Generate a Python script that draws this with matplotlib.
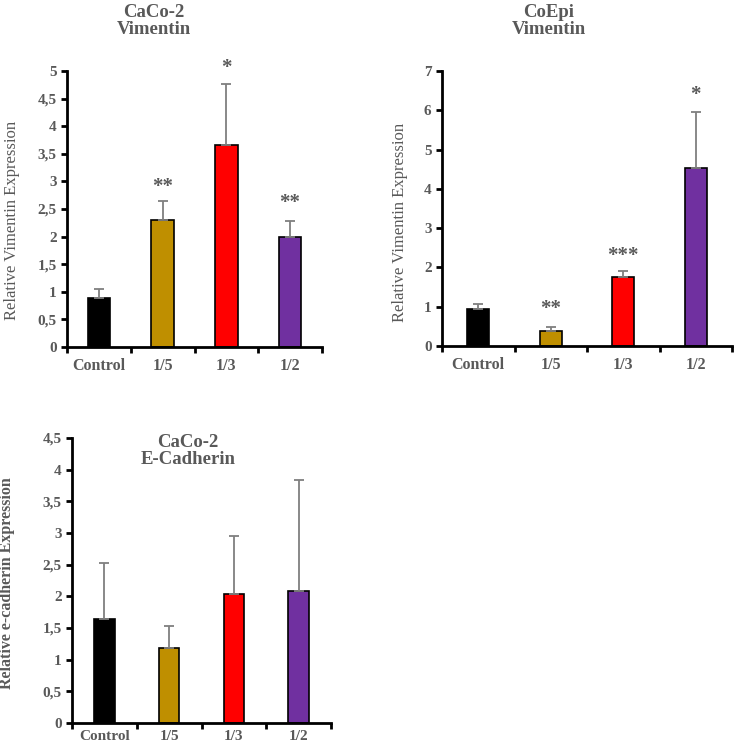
import matplotlib
matplotlib.use('Agg')
import matplotlib.pyplot as plt
from matplotlib.ticker import FuncFormatter, FixedLocator

plt.rcParams['font.family'] = ['Liberation Serif', 'DejaVu Serif']

groups = ['Control', '1/5', '1/3', '1/2']
colors = ['#000000', '#BF8F00', '#FF0000', '#7030A0']

# CaCo-2 Vimentin
caco_vim = [0.89, 2.30, 3.66, 1.99]
caco_vim_err = [0.16, 0.35, 1.10, 0.29]
caco_vim_sig = ['', '**', '*', '**']
caco_vim_sig_y = [0, 2.9, 5.05, 2.6]

# CoEpi Vimentin
coepi_vim = [0.94, 0.38, 1.76, 4.53]
coepi_vim_err = [0.13, 0.10, 0.15, 1.42]
coepi_vim_sig = ['', '**', '***', '*']
coepi_vim_sig_y = [0, 0.95, 2.3, 6.4]

# CaCo-2 E-Cadherin
caco_ecad = [1.64, 1.18, 2.03, 2.08]
caco_ecad_err = [0.88, 0.35, 0.92, 1.75]

GRAY = '#595959'
W, H = 734, 747


def comma(v, pos):
    return ('%g' % v).replace('.', ',')


def draw_panel(ax, values, errs, ymax, ystep, ylabel, bw, sig=None, sig_y=None,
               label_bold=False, xpad=8):
    x = list(range(len(groups)))
    ax.bar(x, values, width=bw, color=colors, edgecolor='black', linewidth=1.2,
           yerr=[[0] * len(errs), errs], ecolor='#7f7f7f',
           error_kw=dict(elinewidth=1.3, capsize=3.5, capthick=1.3), zorder=2)
    ax.set_xlim(-0.5, len(groups) - 0.5)
    ax.set_ylim(0, ymax)
    ticks = [i * ystep for i in range(int(round(ymax / ystep)) + 1)]
    ax.set_yticks(ticks)
    ax.yaxis.set_major_formatter(FuncFormatter(comma))
    ax.set_xticks(x)
    ax.set_xticklabels(groups)
    ax.xaxis.set_minor_locator(FixedLocator([i - 0.5 for i in range(len(groups) + 1)]))
    ax.tick_params(axis='x', which='major', length=0, pad=xpad)
    ax.tick_params(axis='x', which='minor', length=4, width=2, direction='out')
    ax.tick_params(axis='y', length=4, width=2, direction='out')
    for lab in ax.get_yticklabels():
        lab.set_fontweight('bold')
        lab.set_color(GRAY)
        lab.set_fontsize(11)
    for lab in ax.get_xticklabels():
        lab.set_fontweight('bold')
        lab.set_color(GRAY)
        lab.set_fontsize(11.5)
    for side in ['top', 'right']:
        ax.spines[side].set_visible(False)
    for side in ['left', 'bottom']:
        ax.spines[side].set_linewidth(2)
    ax.set_ylabel(ylabel, color=GRAY, fontsize=12,
                  fontweight='bold' if label_bold else 'normal')
    if sig:
        for i, s in enumerate(sig):
            if s:
                ax.text(i, sig_y[i], s, ha='center', va='center', color=GRAY,
                        fontsize=15, fontweight='bold', clip_on=False)


def ptitle(text, x, y):
    fig.text(x / W, 1 - y / H, text, ha='center', va='center', color=GRAY,
             fontweight='bold', fontsize=13.5, linespacing=1.05)


fig = plt.figure(figsize=(7.34, 7.47), dpi=100)

ax1 = fig.add_axes([67 / W, 1 - 347 / H, 255 / W, 276 / H])
draw_panel(ax1, caco_vim, caco_vim_err, 5, 0.5, 'Relative Vimentin Expression', 0.35,
           caco_vim_sig, caco_vim_sig_y)
ax1.yaxis.set_label_coords(-0.184, 0.46)
ptitle('CaCo-2\nVimentin', 154, 21)

ax2 = fig.add_axes([442 / W, 1 - 346 / H, 290 / W, 275 / H])
draw_panel(ax2, coepi_vim, coepi_vim_err, 7, 1, 'Relative Vimentin Expression', 0.31,
           coepi_vim_sig, coepi_vim_sig_y)
ax2.yaxis.set_label_coords(-0.117, 0.45)
ptitle('CoEpi\nVimentin', 549, 21)

ax3 = fig.add_axes([72 / W, 1 - 723 / H, 259 / W, 285 / H])
draw_panel(ax3, caco_ecad, caco_ecad_err, 4.5, 0.5, 'Relative e-cadherin Expression', 0.32,
           label_bold=True, xpad=5)
ax3.yaxis.label.set_fontsize(11.5)
for lab in ax3.get_xticklabels():
    lab.set_fontsize(11)
ax3.yaxis.set_label_coords(-0.222, 0.49)
ptitle('CaCo-2\nE-Cadherin', 188, 451)

fig.savefig('out.png', dpi=100)
